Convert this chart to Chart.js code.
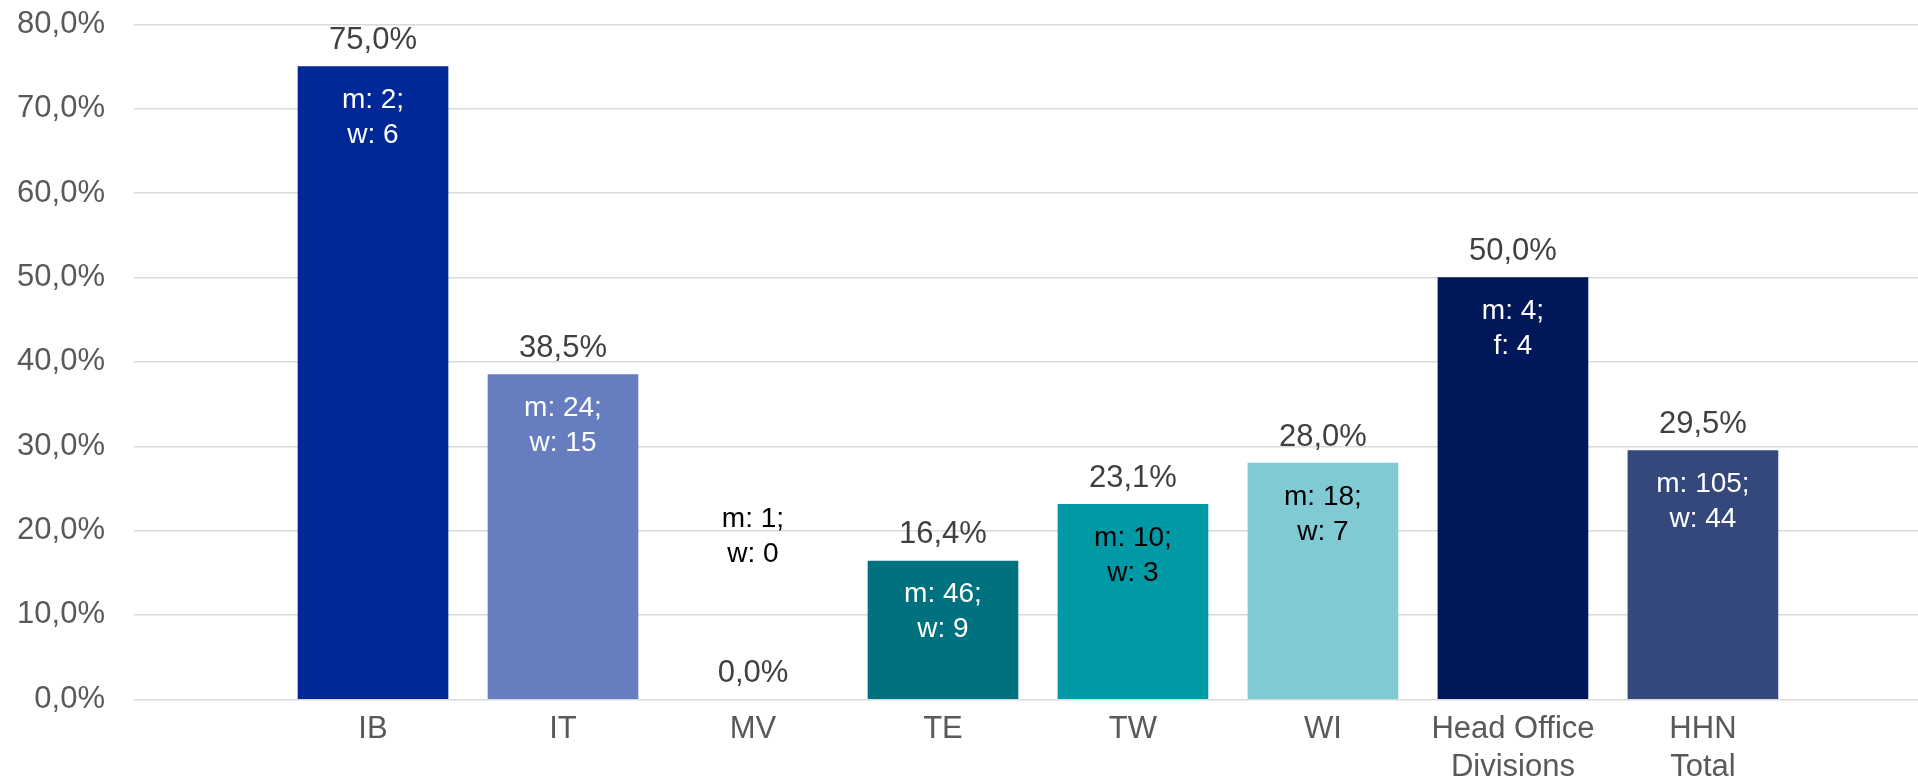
<!DOCTYPE html>
<html>
<head>
<meta charset="utf-8">
<script src="https://cdn.jsdelivr.net/npm/chart.js@4"></script>
<style>
  html, body { margin: 0; padding: 0; background: #ffffff; }
  #wrap { width: 1918px; height: 781px; position: relative; }
</style>
</head>
<body>
<div id="wrap"><canvas id="c"></canvas></div>
<script>
// ---- data ----
const categories = ['IB', 'IT', 'MV', 'TE', 'TW', 'WI', ['Head Office', 'Divisions'], ['HHN', 'Total']];
const shares = [75.0, 38.5, 0.0, 16.4, 23.1, 28.0, 50.0, 29.5];
const menCounts = [2, 24, 1, 46, 10, 18, 4, 105];
const womenCounts = [6, 15, 0, 9, 3, 7, 4, 44];
const womenPrefix = ['w', 'w', 'w', 'w', 'w', 'w', 'f', 'w'];
const yTickValues = [0, 10, 20, 30, 40, 50, 60, 70, 80];

// ---- styles ----
const barColors = ['#002896', '#667DC0', '#FFFFFF', '#00727F', '#009AA6', '#7FCAD3', '#001859', '#34487C'];
const innerTextColors = ['#FFFFFF', '#FFFFFF', '#000000', '#FFFFFF', '#000000', '#000000', '#FFFFFF', '#FFFFFF'];
const FONT = '"Liberation Sans", Arial, sans-serif';

const fmt = v => v.toFixed(1).replace('.', ',') + '%';

const labelPlugin = {
  id: 'barLabels',
  afterDatasetsDraw(chart) {
    const ctx = chart.ctx;
    const meta = chart.getDatasetMeta(0);
    ctx.save();
    ctx.textAlign = 'center';
    ctx.textBaseline = 'alphabetic';
    meta.data.forEach((bar, i) => {
      const { x, y } = bar.getProps(['x', 'y'], true);
      ctx.font = '31px ' + FONT;
      ctx.fillStyle = '#404040';
      ctx.fillText(fmt(shares[i]), x, y - 17.5);
      ctx.font = '28px ' + FONT;
      ctx.fillStyle = innerTextColors[i];
      const l1 = 'm: ' + menCounts[i] + ';';
      const l2 = womenPrefix[i] + ': ' + womenCounts[i];
      let b1 = shares[i] > 0 ? y + 41.5 : y - 172;
      ctx.fillText(l1, x, b1);
      ctx.fillText(l2, x, b1 + 35);
    });
    ctx.restore();
  }
};

const noPad = s => { s.paddingTop = 0; s.paddingBottom = 0; s.paddingLeft = 0; s.paddingRight = 0; };

new Chart(document.getElementById('c'), {
  type: 'bar',
  data: {
    datasets: [{
      data: shares.map((v, i) => ({ x: i, y: v })),
      backgroundColor: barColors,
      borderWidth: 0,
      barThickness: 150
    }]
  },
  options: {
    responsive: true,
    maintainAspectRatio: false,
    animation: false,
    devicePixelRatio: 1,
    layout: { padding: { top: 24.5, right: 0, bottom: 0, left: 0 } },
    plugins: { legend: { display: false }, tooltip: { enabled: false } },
    scales: {
      x: {
        type: 'linear',
        offset: false,
        min: -1.258,
        max: 8.132,
        grid: { display: false, drawTicks: false },
        border: { display: false },
        afterBuildTicks: s => { s.ticks = categories.map((_, i) => ({ value: i })); },
        afterFit: s => { s.height = 81.7; noPad(s); },
        ticks: {
          autoSkip: false,
          maxRotation: 0,
          minRotation: 0,
          padding: 10.5,
          color: '#595959',
          font: { family: FONT, size: 31, lineHeight: 1.25 },
          callback: (v) => categories[v]
        }
      },
      y: {
        min: 0,
        max: 80,
        afterBuildTicks: s => { s.ticks = yTickValues.map(v => ({ value: v })); },
        afterFit: s => { s.width = 134; noPad(s); },
        grid: { color: '#D9D9D9', lineWidth: 1.5, drawTicks: false },
        border: { display: false },
        ticks: {
          padding: 29,
          color: '#595959',
          font: { family: FONT, size: 31 },
          callback: v => fmt(v)
        }
      }
    }
  },
  plugins: [labelPlugin]
});
</script>
</body>
</html>
